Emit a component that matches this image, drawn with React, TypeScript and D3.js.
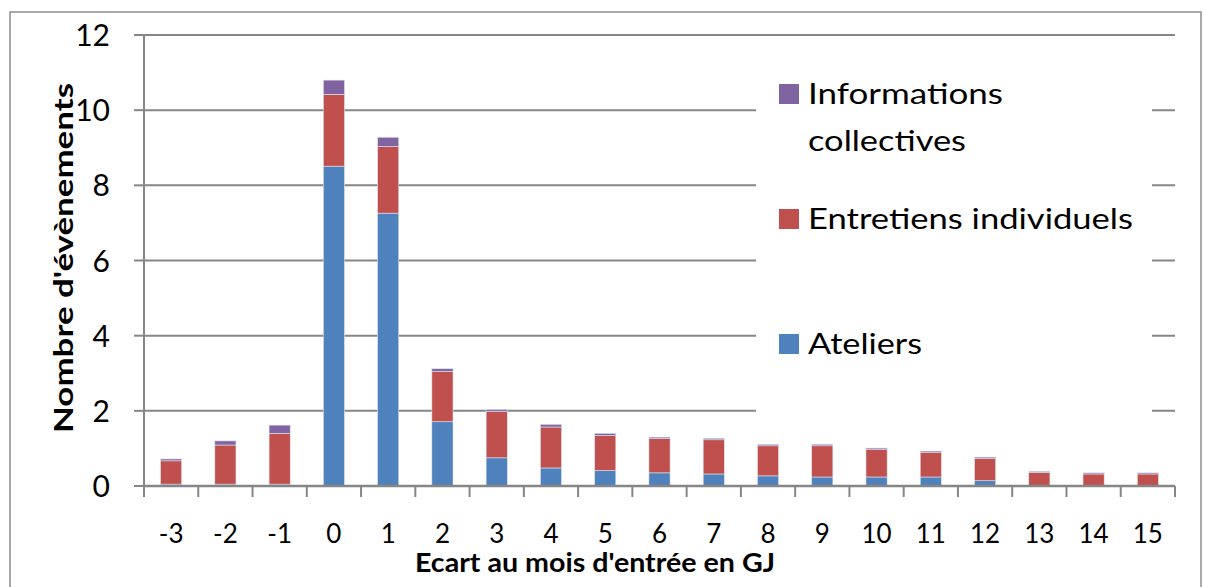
import React, { useEffect, useRef } from 'react'
import * as d3 from 'd3'

const months = ['-3', '-2', '-1', '0', '1', '2', '3', '4', '5', '6', '7', '8', '9', '10', '11', '12', '13', '14', '15']
const ateliers = [0.05, 0.05, 0.05, 8.51, 7.26, 1.71, 0.75, 0.48, 0.41, 0.35, 0.32, 0.27, 0.24, 0.24, 0.24, 0.14, 0, 0, 0]
const entretiens = [0.62, 1.04, 1.35, 1.91, 1.77, 1.34, 1.24, 1.09, 0.93, 0.91, 0.91, 0.80, 0.83, 0.74, 0.66, 0.60, 0.36, 0.32, 0.32]
const informations = [0.05, 0.11, 0.22, 0.38, 0.25, 0.07, 0.05, 0.07, 0.06, 0.04, 0.04, 0.04, 0.04, 0.03, 0.03, 0.03, 0.03, 0.03, 0.03]
const yTicks = [0, 2, 4, 6, 8, 10, 12]

const colors = ['#4f81bd', '#c0504d', '#8064a2']

export default function App() {
    const ref = useRef<SVGSVGElement>(null)

    useEffect(() => {
        const width = 1205, height = 587
        const left = 144, right = 1175, top = 35, bottom = 486
        const font = 'Lato, "Open Sans", sans-serif'

        const svg = d3.select(ref.current)
        svg.selectAll('*').remove()

        // chart frame
        svg.append('rect')
            .attr('x', 10).attr('y', 12)
            .attr('width', width - 14).attr('height', height)
            .attr('fill', 'white')
            .attr('stroke', '#8c8c8c')
            .attr('stroke-width', 1.5)

        const x = d3.scaleBand().domain(months).range([left, right]).paddingInner(0.61).paddingOuter(0.305)
        const xStep = d3.scaleBand().domain(months).range([left, right])
        const y = d3.scaleLinear().domain([0, 12]).range([bottom, top])

        // gridlines
        svg.append('g')
            .selectAll('line')
            .data(yTicks.filter(d => d > 0))
            .enter()
            .append('line')
            .attr('x1', left).attr('x2', right)
            .attr('y1', d => y(d)).attr('y2', d => y(d))
            .attr('stroke', '#868686')
            .attr('stroke-width', 2)

        // stacked bars
        const rows = months.map((m, i) => ({ month: m, a: ateliers[i], e: entretiens[i], info: informations[i] }))
        const stack = d3.stack<any>().keys(['a', 'e', 'info'])(rows)

        stack.forEach((layer, k) => {
            svg.append('g')
                .selectAll('rect')
                .data(layer)
                .enter()
                .append('rect')
                .attr('x', (d: any) => x(d.data.month) as number)
                .attr('width', x.bandwidth())
                .attr('y', (d: any) => y(d[1]))
                .attr('height', (d: any) => Math.max(0, y(d[0]) - y(d[1])))
                .attr('fill', colors[k])
                .attr('stroke', (d: any) => (d[1] - d[0] > 0 ? '#dfe6f0' : 'none'))
                .attr('stroke-width', 0.6)
        })

        // legend background hides the gridlines
        svg.append('rect')
            .attr('x', 756).attr('y', 60)
            .attr('width', 396).attr('height', 360)
            .attr('fill', 'white')

        const legend = [
            { k: 2, lines: ['Informations', 'collectives'], widths: [195, 158], cy: 94 },
            { k: 1, lines: ['Entretiens individuels'], widths: [325], cy: 219 },
            { k: 0, lines: ['Ateliers'], widths: [114], cy: 344 },
        ]
        legend.forEach(item => {
            svg.append('rect')
                .attr('x', 779).attr('y', item.cy - 10)
                .attr('width', 20).attr('height', 20)
                .attr('fill', colors[item.k])
            item.lines.forEach((t, j) => {
                svg.append('text')
                    .attr('x', 808).attr('y', item.cy + 10 + j * 47)
                    .attr('textLength', item.widths[j])
                    .attr('lengthAdjust', 'spacingAndGlyphs')
                    .text(t)
                    .style('font-family', font)
                    .style('font-size', '29px')
                    .attr('fill', '#000')
            })
        })

        // y axis
        svg.append('line')
            .attr('x1', left).attr('x2', left)
            .attr('y1', top).attr('y2', bottom)
            .attr('stroke', '#868686').attr('stroke-width', 2)
        svg.append('g')
            .selectAll('line')
            .data(yTicks)
            .enter()
            .append('line')
            .attr('x1', left - 10).attr('x2', left)
            .attr('y1', d => y(d)).attr('y2', d => y(d))
            .attr('stroke', '#868686').attr('stroke-width', 2)
        svg.append('g')
            .selectAll('text')
            .data(yTicks)
            .enter()
            .append('text')
            .attr('x', 110)
            .attr('y', d => y(d) + 11)
            .attr('text-anchor', 'end')
            .text(d => d)
            .style('font-family', font)
            .style('font-size', '30px')

        // x axis
        svg.append('line')
            .attr('x1', left).attr('x2', right)
            .attr('y1', bottom).attr('y2', bottom)
            .attr('stroke', '#868686').attr('stroke-width', 2.5)
        const boundaries = months.map(m => xStep(m) as number).concat([right])
        svg.append('g')
            .selectAll('line')
            .data(boundaries)
            .enter()
            .append('line')
            .attr('x1', d => d).attr('x2', d => d)
            .attr('y1', bottom).attr('y2', bottom + 11)
            .attr('stroke', '#868686').attr('stroke-width', 2)
        svg.append('g')
            .selectAll('text')
            .data(months)
            .enter()
            .append('text')
            .attr('x', d => (xStep(d) as number) + xStep.bandwidth() / 2)
            .attr('y', 543)
            .attr('text-anchor', 'middle')
            .text(d => d)
            .style('font-family', font)
            .style('font-size', '26px')

        // axis titles
        svg.append('text')
            .attr('x', 595).attr('y', 572)
            .attr('text-anchor', 'middle')
            .attr('textLength', 360)
            .attr('lengthAdjust', 'spacingAndGlyphs')
            .text("Ecart au mois d'entrée en GJ")
            .style('font-family', font)
            .style('font-size', '26px')
            .style('font-weight', 'bold')
        svg.append('text')
            .attr('transform', 'translate(73, 258) rotate(-90)')
            .attr('text-anchor', 'middle')
            .attr('textLength', 350)
            .attr('lengthAdjust', 'spacingAndGlyphs')
            .text("Nombre d'évènements")
            .style('font-family', font)
            .style('font-size', '26px')
            .style('font-weight', 'bold')
    }, [])

    return (
        <svg ref={ref} width={1205} height={587} style={{ position: 'absolute', left: 0, top: 0 }} />
    )
}
